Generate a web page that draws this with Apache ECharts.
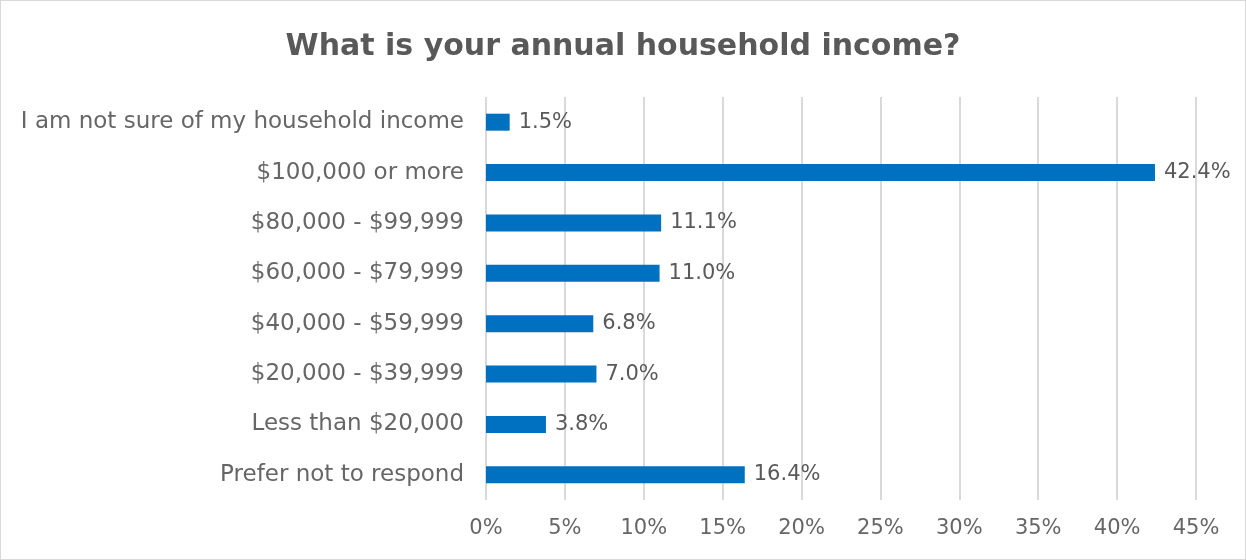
<!DOCTYPE html>
<html>
<head>
<meta charset="utf-8">
<script src="https://cdn.jsdelivr.net/npm/echarts@6/dist/echarts.min.js"></script>
<style>
  html, body { margin: 0; padding: 0; background: #fff; }
  #chart { width: 1246px; height: 560px; box-sizing: border-box; border: 1px solid #d9d9d9; }
</style>
</head>
<body>
<div id="chart"></div>
<script>
// survey answers, top to bottom
const categories = [
  'I am not sure of my household income',
  '$100,000 or more',
  '$80,000 - $99,999',
  '$60,000 - $79,999',
  '$40,000 - $59,999',
  '$20,000 - $39,999',
  'Less than $20,000',
  'Prefer not to respond'
];
const percents = [1.5, 42.4, 11.1, 11.0, 6.8, 7.0, 3.8, 16.4];
const xTicks = [0, 5, 10, 15, 20, 25, 30, 35, 40, 45];

const textColor = '#595959';
const labelFont = '"DejaVu Sans", sans-serif';

const chart = echarts.init(document.getElementById('chart'));
chart.setOption({
  animation: false,
  title: {
    text: 'What is your annual household income?',
    left: 'center',
    top: 26,
    textStyle: { color: textColor, fontSize: 30, fontWeight: 'bold', fontFamily: labelFont }
  },
  grid: { left: 485, right: 49, top: 96, bottom: 59, containLabel: false },
  xAxis: {
    type: 'value',
    min: xTicks[0],
    max: xTicks[xTicks.length - 1],
    interval: 5,
    axisLine: { show: false },
    axisTick: { show: false },
    axisLabel: { color: '#666', fontSize: 21, fontFamily: labelFont, margin: 18, formatter: '{value}%' },
    splitLine: { lineStyle: { color: '#d9d9d9', width: 2 } }
  },
  yAxis: {
    type: 'category',
    data: categories,
    inverse: true,
    axisLine: { show: false },
    axisTick: { show: false },
    axisLabel: { color: '#666', fontSize: 23, fontFamily: labelFont, margin: 22 }
  },
  series: [{
    type: 'bar',
    data: percents,
    barWidth: 17,
    itemStyle: { color: '#0070C0' },
    label: {
      show: true,
      position: 'right',
      distance: 9,
      color: textColor,
      fontSize: 21,
      fontFamily: labelFont,
      formatter: p => p.value.toFixed(1) + '%'
    }
  }]
});
</script>
</body>
</html>
